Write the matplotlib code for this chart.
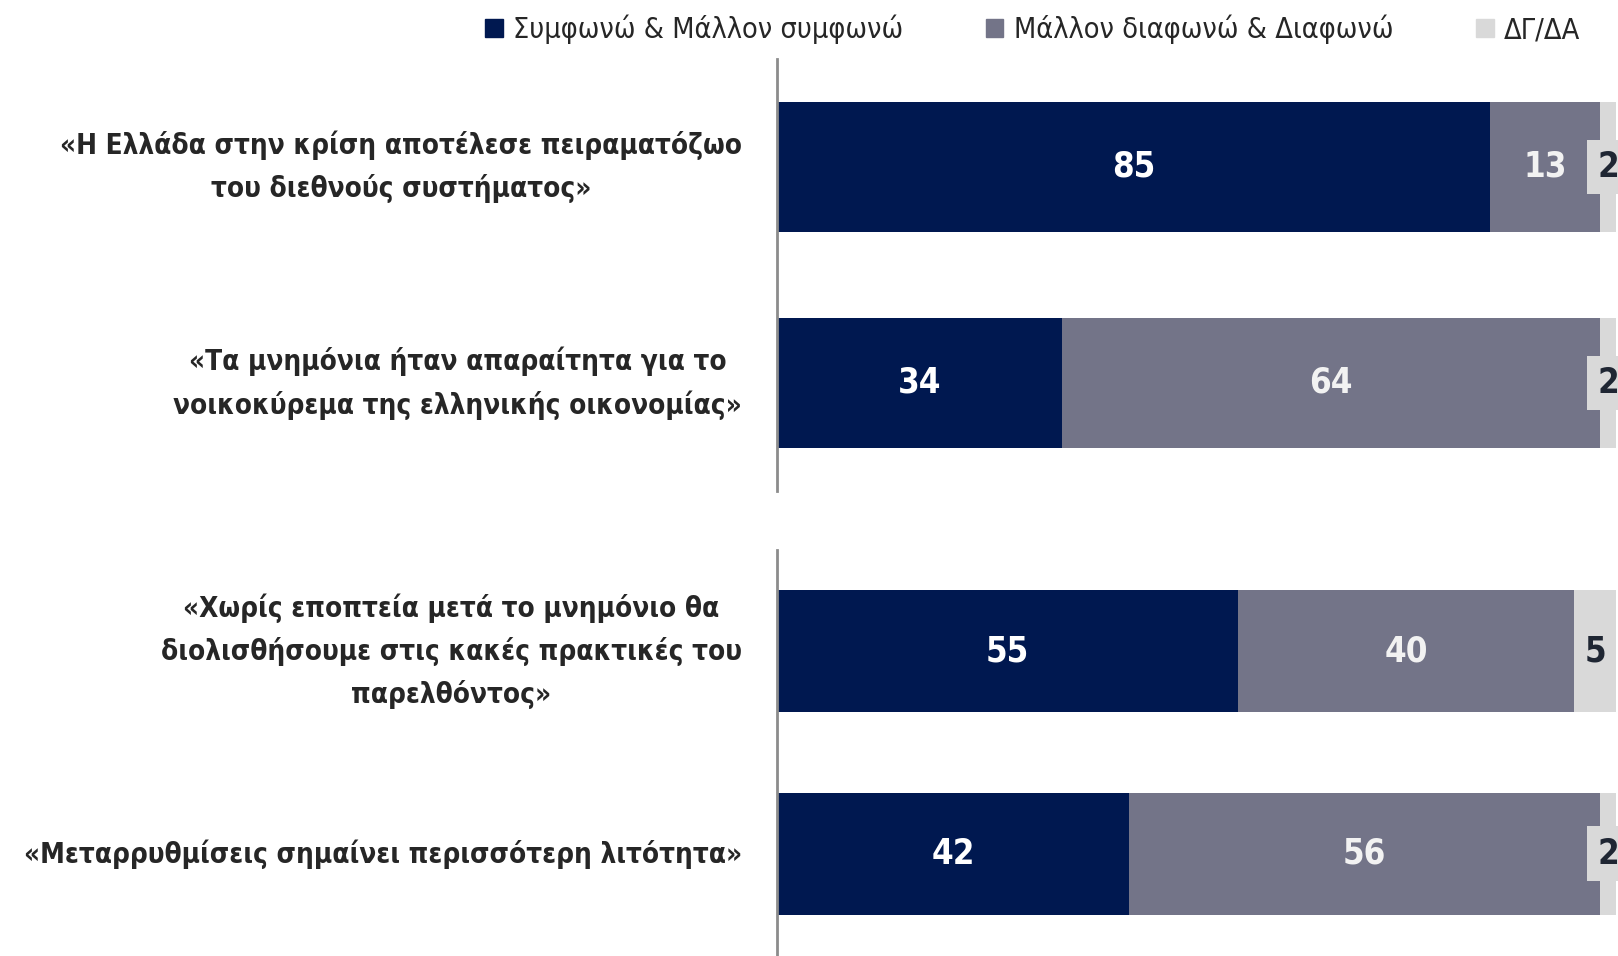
import matplotlib
matplotlib.use("Agg")
import matplotlib.pyplot as plt
from matplotlib.patches import Patch
from matplotlib import font_manager as fm

# pick a narrow font if one is around
names = {f.name for f in fm.fontManager.ttflist}
condensed = [f.name for f in fm.fontManager.ttflist
             if f.name.startswith("DejaVu Sans") and str(f.stretch) in ("condensed", "semi-condensed", "500")]
if "Liberation Sans Narrow" in names:
    fam, stretch, scale = "Liberation Sans Narrow", "normal", 1.1
elif condensed:
    fam, stretch, scale = "DejaVu Sans", "condensed", 1.0
else:
    fam, stretch, scale = "Liberation Sans", "normal", 0.9
plt.rcParams['font.family'] = [fam, 'DejaVu Sans']
plt.rcParams['font.stretch'] = stretch

# data
statements_top = [
    "«Η Ελλάδα στην κρίση αποτέλεσε πειραματόζωο\nτου διεθνούς συστήματος»",
    "«Τα μνημόνια ήταν απαραίτητα για το\nνοικοκύρεμα της ελληνικής οικονομίας»",
]
statements_bottom = [
    "«Χωρίς εποπτεία μετά το μνημόνιο θα\nδιολισθήσουμε στις κακές πρακτικές του\nπαρελθόντος»",
    "«Μεταρρυθμίσεις σημαίνει περισσότερη λιτότητα»",
]
agree_top = [85, 34]
disagree_top = [13, 64]
dkna_top = [2, 2]
agree_bottom = [55, 42]
disagree_bottom = [40, 56]
dkna_bottom = [5, 2]
series_names = ["Συμφωνώ & Μάλλον συμφωνώ", "Μάλλον διαφωνώ & Διαφωνώ", "ΔΓ/ΔΑ"]

c_agree = "#001850"
c_dis = "#737488"
c_dk = "#d9d9d9"
label_col = "#262626"

fig = plt.figure(figsize=(16.18, 9.56), dpi=100)
ax1 = fig.add_axes([0.480, 0.4864, 0.519, 0.4519])
ax2 = fig.add_axes([0.480, 0.001, 0.519, 0.4237])

lab_fs = 20 * scale
num_fs = 25 * scale


def draw(ax, labels, a, d, k):
    y = list(range(len(labels)))
    ax.barh(y, a, height=0.6, color=c_agree)
    ax.barh(y, d, left=a, height=0.6, color=c_dis)
    left2 = [i + j for i, j in zip(a, d)]
    ax.barh(y, k, left=left2, height=0.6, color=c_dk)
    for i in y:
        ax.text(a[i] / 2, i, str(a[i]), color="white", fontsize=num_fs, fontweight="bold",
                ha="center", va="center")
        ax.text(a[i] + d[i] / 2, i, str(d[i]), color="#f2f2f2", fontsize=num_fs, fontweight="bold",
                ha="center", va="center")
        kx = left2[i] + k[i] / 2
        if k[i] < 4:
            ax.text(kx, i, str(k[i]), color="#1f2633", fontsize=num_fs, fontweight="bold",
                    ha="center", va="center", clip_on=False,
                    bbox=dict(boxstyle="square,pad=0.3", fc=c_dk, ec="none"))
        else:
            ax.text(kx, i, str(k[i]), color="#1f2633", fontsize=num_fs, fontweight="bold",
                    ha="center", va="center")
    ax.set_xlim(0, 100)
    ax.set_ylim(len(labels) - 0.5, -0.5)
    ax.set_yticks(y)
    ax.set_yticklabels(labels, fontsize=lab_fs, fontweight="bold", color=label_col,
                       multialignment="center", linespacing=1.6, va="center")
    ax.tick_params(axis="y", length=0, pad=25)
    ax.set_xticks([])
    for s in ["top", "right", "bottom"]:
        ax.spines[s].set_visible(False)
    ax.spines["left"].set_color("#8c8c8c")
    ax.spines["left"].set_linewidth(2)


draw(ax1, statements_top, agree_top, disagree_top, dkna_top)
draw(ax2, statements_bottom, agree_bottom, disagree_bottom, dkna_bottom)

handles = [Patch(color=c) for c in (c_agree, c_dis, c_dk)]
fig.legend(handles, series_names, loc="center left", bbox_to_anchor=(0.284, 0.969),
           ncol=3, frameon=False, fontsize=20.7 * scale, handlelength=0.6, handleheight=0.6,
           handletextpad=0.35, columnspacing=2.9, labelcolor=label_col)

fig.savefig("out.png", dpi=100)
